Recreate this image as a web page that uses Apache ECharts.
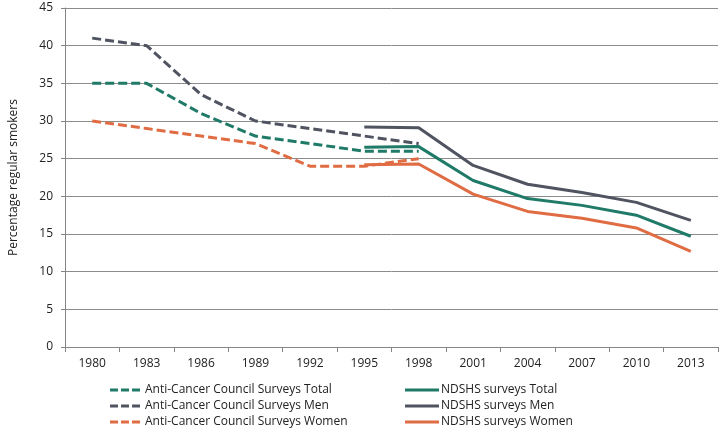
<!DOCTYPE html>
<html><head><meta charset="utf-8">
<script src="https://cdn.jsdelivr.net/npm/echarts@6/dist/echarts.min.js"></script>
<style>html,body{margin:0;padding:0;background:#fff}#c{width:724px;height:434px}</style>
</head><body><div id="c"></div>
<script>
var years = ['1980','1983','1986','1989','1992','1995','1998','2001','2004','2007','2010','2013'];
var accTotal = [35, 35, 31, 28, 27, 26, 26, null, null, null, null, null];
var accMen   = [41, 40, 33.5, 30, 29, 28, 27, null, null, null, null, null];
var accWomen = [30, 29, 28, 27, 24, 24, 25, null, null, null, null, null];
var ndTotal  = [null, null, null, null, null, 26.5, 26.6, 22.1, 19.7, 18.8, 17.5, 14.7];
var ndMen    = [null, null, null, null, null, 29.2, 29.1, 24.1, 21.6, 20.5, 19.2, 16.8];
var ndWomen  = [null, null, null, null, null, 24.2, 24.3, 20.3, 18.0, 17.1, 15.8, 12.7];
var yTicks = [0, 5, 10, 15, 20, 25, 30, 35, 40, 45];

var teal = '#1f7a68', slate = '#4f5460', orange = '#e06c44';
var FONT = '"Open Sans", "Noto Sans", sans-serif';
var dashIcon = 'path://M0,0h8v3h-8zM11,0h8v3h-8zM22,0h8v3h-8z';
function mk(name, data, color, dashed) {
  return {
    name: name, type: 'line', data: data, symbol: 'none', smooth: false,
    connectNulls: false, silent: true,
    lineStyle: { color: color, width: 3, type: dashed ? [9, 4] : 'solid' },
    itemStyle: { color: color }
  };
}
var accNames = ['Anti-Cancer Council Surveys Total', 'Anti-Cancer Council Surveys Men', 'Anti-Cancer Council Surveys Women'];
var ndNames = ['NDSHS surveys Total', 'NDSHS surveys Men', 'NDSHS surveys Women'];
var chart = echarts.init(document.getElementById('c'));
chart.setOption({
  animation: false,
  textStyle: { fontFamily: FONT },
  grid: { left: 62, right: 6, top: 8, bottom: 87, containLabel: false },
  xAxis: {
    type: 'category', data: years, boundaryGap: true,
    axisLine: { lineStyle: { color: '#868686', width: 1 } },
    axisTick: { show: true, length: 5, lineStyle: { color: '#868686' } },
    axisLabel: { color: '#222', fontSize: 12, fontFamily: FONT, margin: 11 },
    splitLine: { show: false }
  },
  yAxis: {
    type: 'value', min: yTicks[0], max: yTicks[yTicks.length - 1], interval: 5,
    name: 'Percentage regular smokers', nameLocation: 'middle', nameGap: 45,
    nameTextStyle: { color: '#222', fontSize: 12, fontFamily: FONT },
    axisLine: { show: true, lineStyle: { color: '#868686' } },
    axisTick: { show: true, length: 4, lineStyle: { color: '#868686' } },
    axisLabel: { color: '#222', fontSize: 12, fontFamily: FONT, margin: 12 },
    splitLine: { show: true, lineStyle: { color: '#8c8c8c', width: 1 } }
  },
  legend: [
    {
      orient: 'vertical', left: 110, top: 383, padding: 0, itemWidth: 30, itemHeight: 3, itemGap: 2,
      textStyle: { fontSize: 12, lineHeight: 14, color: '#222', fontFamily: FONT },
      data: accNames.map(function (n) { return { name: n, icon: dashIcon }; }),
      selectedMode: false
    },
    {
      orient: 'vertical', left: 405, top: 383, padding: 0, itemWidth: 34, itemHeight: 3, itemGap: 2,
      textStyle: { fontSize: 12, lineHeight: 14, color: '#222', fontFamily: FONT, padding: [0, 0, 0, -3] },
      data: ndNames.map(function (n) { return { name: n, icon: 'rect' }; }),
      selectedMode: false
    }
  ],
  series: [
    mk(accNames[0], accTotal, teal, true),
    mk(accNames[1], accMen, slate, true),
    mk(accNames[2], accWomen, orange, true),
    mk(ndNames[0], ndTotal, teal, false),
    mk(ndNames[1], ndMen, slate, false),
    mk(ndNames[2], ndWomen, orange, false)
  ]
});
</script></body></html>
